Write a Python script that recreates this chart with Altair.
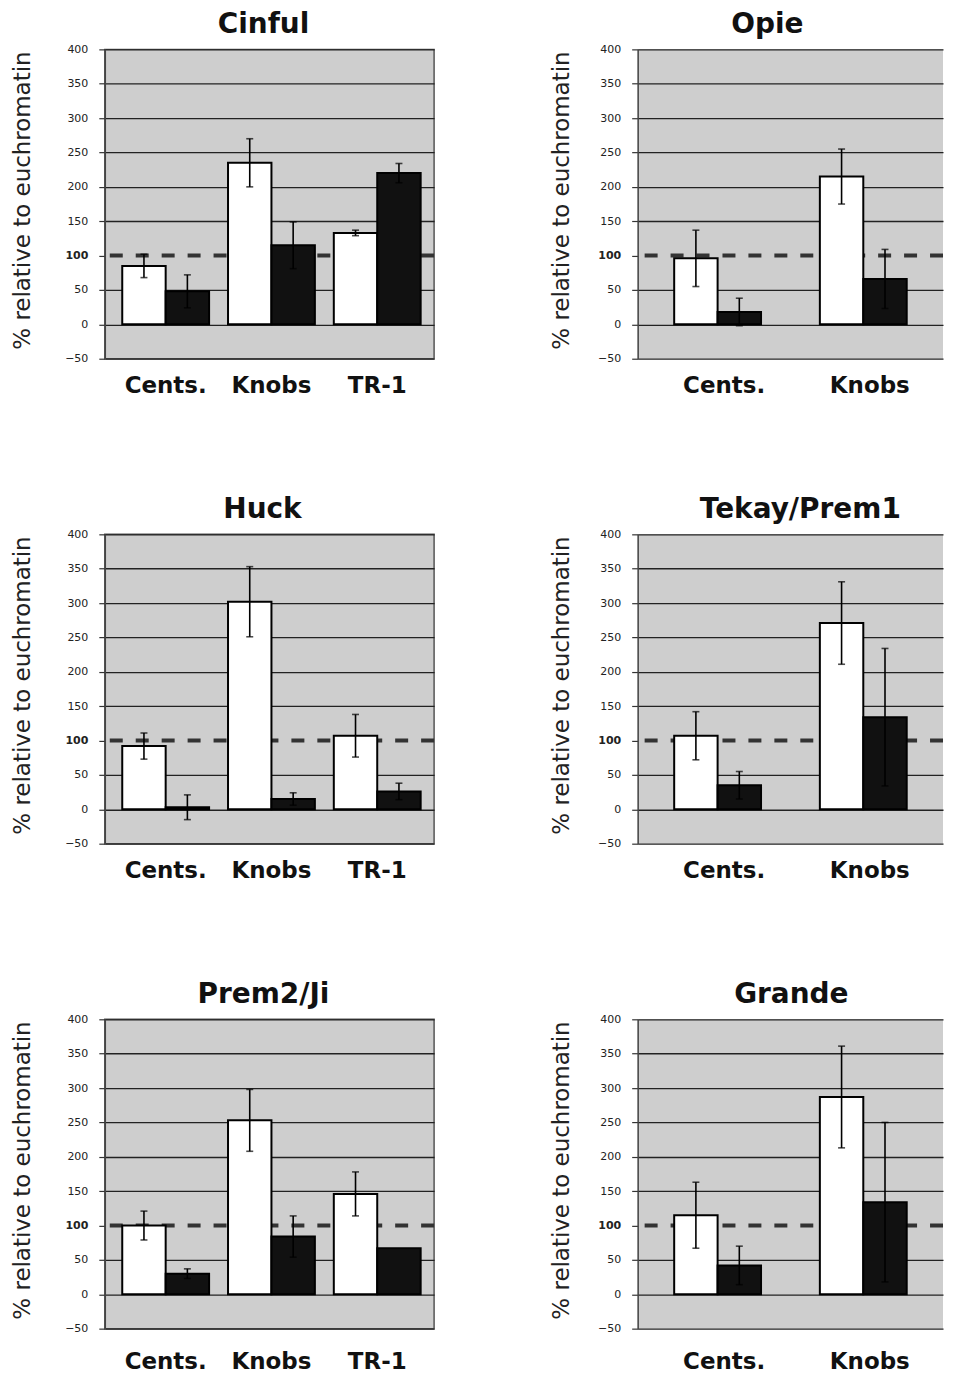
import altair as alt
import pandas as pd

# ---------------- data ----------------
CATS_3 = ["Cents.", "Knobs", "TR-1"]
CATS_2 = ["Cents.", "Knobs"]
SERIES = ["open", "filled"]
Y_TICKS = [-50, 0, 50, 100, 150, 200, 250, 300, 350, 400]
REF_LEVEL = [100]
Y_TITLE = "% relative to euchromatin"

cinful_open = [85, 235, 133]
cinful_open_err = [17, 35, 4]
cinful_filled = [48, 115, 220]
cinful_filled_err = [24, 34, 14]

opie_open = [96, 215]
opie_open_err = [41, 40]
opie_filled = [18, 66]
opie_filled_err = [20, 43]

huck_open = [92, 302, 107]
huck_open_err = [19, 51, 31]
huck_filled = [3, 15, 26]
huck_filled_err = [18, 9, 12]

tekay_open = [107, 271]
tekay_open_err = [35, 60]
tekay_filled = [35, 134]
tekay_filled_err = [20, 100]

prem2_open = [100, 253, 146]
prem2_open_err = [21, 45, 32]
prem2_filled = [30, 84, 67]
prem2_filled_err = [7, 30, 0]

grande_open = [115, 287]
grande_open_err = [48, 74]
grande_filled = [42, 134]
grande_filled_err = [28, 116]

# ---------------- styling ----------------
PLOT_BG = "#cecece"
FONT = "DejaVu Sans"
H = 310


def panel(name, cats, o, oe, f, fe, left_col, title_dx, label_pad):
    rows = []
    for i, c in enumerate(cats):
        rows.append({"cat": c, "series": "open", "value": o[i], "err": oe[i]})
        rows.append({"cat": c, "series": "filled", "value": f[i], "err": fe[i]})
    df = pd.DataFrame(rows)
    df["low"] = df["value"] - df["err"]
    df["high"] = df["value"] + df["err"]

    if left_col:
        width = 330
        xscale = alt.Scale(domain=cats, paddingInner=0.179, paddingOuter=0.146, align=0.565)
        title_x = -75
    else:
        width = 306
        xscale = alt.Scale(domain=cats, paddingInner=0.315, paddingOuter=0.2055, align=0.61)
        title_x = -69

    x = alt.X(
        "cat:N",
        scale=xscale,
        axis=alt.Axis(
            title=None, labelAngle=0, labelFont=FONT, labelFontSize=23,
            labelFontWeight="bold", labelColor="#111", ticks=False, domain=False,
            labelPadding=label_pad, labelBaseline="top",
        ),
    )
    xo = alt.XOffset("series:N", scale=alt.Scale(domain=SERIES, paddingInner=0, paddingOuter=0))

    yaxis = alt.Axis(
        values=Y_TICKS, title=Y_TITLE, titleFont=FONT, titleFontSize=23,
        titleFontWeight="normal", titleColor="#222", titleX=title_x, titleY=151,
        titleBaseline="alphabetic", titleAlign="center",
        labelFont=FONT, labelFontSize=11, labelColor="#222", labelPadding=11,
        labelFontWeight={"condition": {"test": "datum.value === 100", "value": "bold"}, "value": "normal"},
        tickSize=6, tickColor="#333", tickWidth=1.2,
        domain=True, domainColor="#444", domainWidth=1.5,
        grid=True, gridColor="#222", gridWidth=1.3,
        gridOpacity={"condition": {"test": "datum.value === 100", "value": 0}, "value": 1},
    )
    yscale = alt.Scale(domain=[-50, 400], nice=False, zero=False)

    ref = alt.Chart(pd.DataFrame({"level": REF_LEVEL})).mark_rule(
        color="#333", strokeWidth=4, strokeDash=[13, 13]
    ).encode(y=alt.Y("level:Q", scale=yscale, axis=yaxis))

    bars = alt.Chart(df).mark_bar(stroke="#000", strokeWidth=2).encode(
        x=x, xOffset=xo,
        y=alt.Y("value:Q", scale=yscale, axis=yaxis),
        fill=alt.Fill("series:N", scale=alt.Scale(domain=SERIES, range=["#ffffff", "#111111"]), legend=None),
    )

    err_df = df[df["err"] > 0]
    stems = alt.Chart(err_df).mark_rule(color="#000", strokeWidth=1.6).encode(
        x=x, xOffset=xo, y=alt.Y("low:Q", scale=yscale, axis=yaxis), y2="high:Q"
    )
    cap_hi = alt.Chart(err_df).mark_tick(color="#000", thickness=1.6, size=7).encode(
        x=x, xOffset=xo, y=alt.Y("high:Q", scale=yscale, axis=yaxis)
    )
    cap_lo = alt.Chart(err_df).mark_tick(color="#000", thickness=1.6, size=7).encode(
        x=x, xOffset=xo, y=alt.Y("low:Q", scale=yscale, axis=yaxis)
    )

    if left_col:
        view = alt.ViewBackground(fill=PLOT_BG, stroke="#555", strokeWidth=1.5)
    else:
        view = alt.ViewBackground(fill=PLOT_BG, strokeWidth=0)

    return alt.layer(ref, bars, stems, cap_hi, cap_lo).properties(
        width=width, height=H,
        title=alt.TitleParams(
            text=name, font=FONT, fontSize=28, fontWeight="bold", color="#111",
            anchor="middle", frame="group", dx=title_dx, offset=4,
        ),
        view=view,
    )


p1 = panel("Cinful", CATS_3, cinful_open, cinful_open_err, cinful_filled, cinful_filled_err, True, -6, 16)
p2 = panel("Opie", CATS_2, opie_open, opie_open_err, opie_filled, opie_filled_err, False, -23, 16)
p3 = panel("Huck", CATS_3, huck_open, huck_open_err, huck_filled, huck_filled_err, True, -7, 16)
p4 = panel("Tekay/Prem1", CATS_2, tekay_open, tekay_open_err, tekay_filled, tekay_filled_err, False, 10, 16)
p5 = panel("Prem2/Ji", CATS_3, prem2_open, prem2_open_err, prem2_filled, prem2_filled_err, True, -6, 22)
p6 = panel("Grande", CATS_2, grande_open, grande_open_err, grande_filled, grande_filled_err, False, 1, 22)

chart = alt.vconcat(
    alt.hconcat(p1, p2, spacing=114),
    alt.hconcat(p3, p4, spacing=114),
    alt.hconcat(p5, p6, spacing=114),
    spacing=97,
).properties(
    padding={"left": 3, "top": 1, "right": 2, "bottom": 5},
    background="#ffffff",
).configure_view(strokeWidth=0)

chart.save("out.html", embed_options={"renderer": "svg", "actions": False})
